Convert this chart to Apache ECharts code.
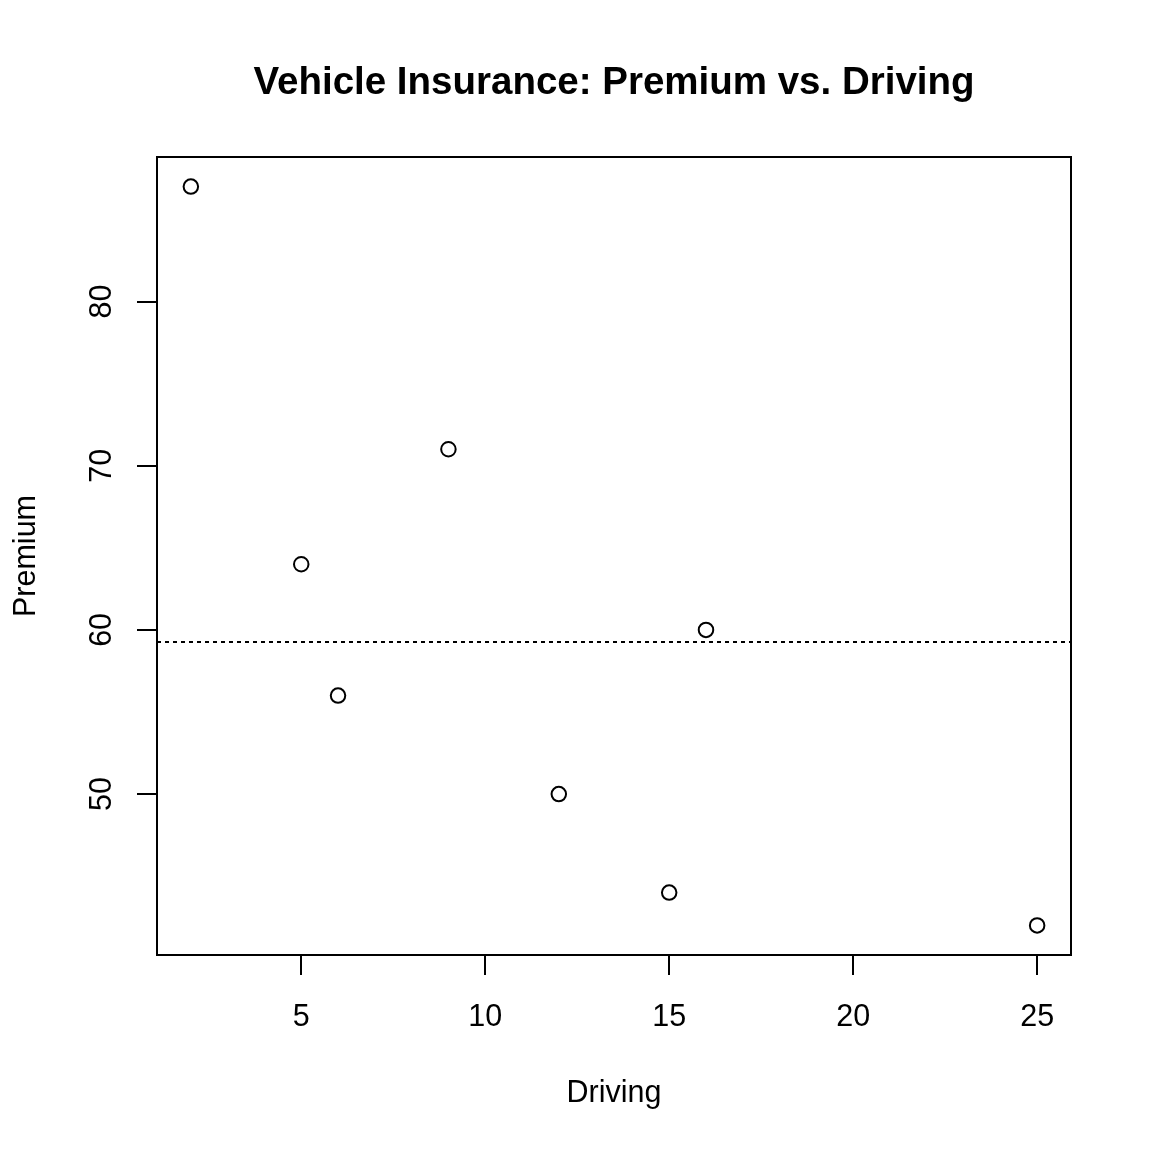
<!DOCTYPE html>
<html>
<head>
<meta charset="utf-8">
<script src="https://cdn.jsdelivr.net/npm/echarts@6/dist/echarts.min.js"></script>
<style>html,body{margin:0;padding:0;background:#fff}#c{width:1152px;height:1152px}</style>
</head>
<body>
<div id="c"></div>
<script>
const driving = [2, 5, 6, 9, 12, 15, 16, 25];
const premium = [87, 64, 56, 71, 50, 44, 60, 42];
const meanPremium = 59.25;
const xTicks = [5, 10, 15, 20, 25];
const yTicks = [50, 60, 70, 80];

const chart = echarts.init(document.getElementById('c'), null, {renderer: 'canvas'});
const font = 'Liberation Sans, Arial, Helvetica, sans-serif';
chart.setOption({
  animation: false,
  backgroundColor: '#fff',
  title: {
    text: 'Vehicle Insurance: Premium vs. Driving',
    left: 609, top: 59, textAlign: 'center',
    textStyle: {fontFamily: font, fontWeight: 'bold', fontSize: 38.5, color: '#000'}
  },
  grid: {left: 157, top: 157, width: 914, height: 798, show: true, borderColor: '#000', borderWidth: 2, backgroundColor: 'transparent'},
  xAxis: {
    type: 'value', min: 1.08, max: 25.92,
    name: 'Driving', nameLocation: 'middle', nameGap: 123,
    nameTextStyle: {fontFamily: font, fontSize: 30.5, color: '#000'},
    axisLine: {show: false},
    axisTick: {show: true, length: 20, lineStyle: {color: '#000', width: 2}, customValues: xTicks},
    axisLabel: {fontFamily: font, fontSize: 30.5, color: '#000', margin: 47, customValues: xTicks},
    splitLine: {show: false}
  },
  yAxis: {
    type: 'value', min: 40.2, max: 88.8,
    name: 'Premium', nameLocation: 'middle', nameGap: 115, nameRotate: 90,
    nameTextStyle: {fontFamily: font, fontSize: 30.5, color: '#000'},
    axisLine: {show: false},
    axisTick: {show: true, length: 20, lineStyle: {color: '#000', width: 2}, customValues: yTicks},
    axisLabel: {fontFamily: font, fontSize: 30.5, color: '#000', margin: 39, rotate: 90, customValues: yTicks},
    splitLine: {show: false}
  },
  series: [{
    type: 'scatter',
    data: driving.map((d, i) => [d, premium[i]]),
    symbol: 'circle', symbolSize: 14.5,
    itemStyle: {color: '#fff', borderColor: '#000', borderWidth: 2, opacity: 1},
    markLine: {
      silent: true, symbol: 'none', label: {show: false},
      lineStyle: {color: '#000', width: 2, type: [4, 4]},
      data: [{yAxis: meanPremium}]
    }
  }]
});
</script>
</body>
</html>
